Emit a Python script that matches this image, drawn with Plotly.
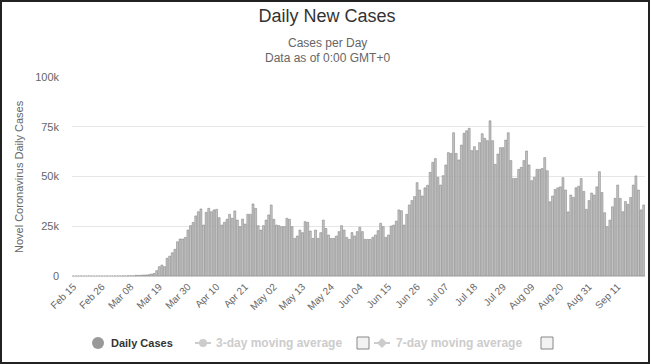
import pandas as pd
import plotly.graph_objects as go

START_DATE = "2020-02-15"

# Daily new cases
FEB = [0, 0, 0, 0, 0, 0, 2, 0, 0, 0, 1, 1, 0, 3, 1]
MAR = [8, 23, 20, 31, 68, 45, 140, 116, 65, 376, 322, 382, 516, 548,
       700, 1000, 1300, 2700, 4700, 5500, 4700, 8900, 10000, 11700, 13400,
       17200, 18600, 18600, 19400, 23100, 25300]
APR = [26900, 30200, 32300, 33700, 25600, 32000, 34000, 32300, 33200, 33500,
       29300, 25600, 27000, 28500, 31000, 29000, 32700, 28100, 24800, 28600,
       26100, 31000, 31000, 36200, 34000, 25300, 23100, 25300, 28100, 30700]
MAY = [35700, 28500, 25600, 25300, 24800, 24800, 29000, 28500, 24800, 18900,
       20100, 23100, 21800, 27300, 27000, 22600, 18900, 23100, 18900, 21800,
       28100, 23900, 20600, 18900, 18900, 20100, 22300, 25300, 23100, 19400,
       18400]
JUN = [21800, 20100, 22300, 24500, 22300, 18400, 18400, 18400, 19500, 20600,
       22800, 26500, 24800, 19400, 20600, 25100, 25600, 27600, 33200, 32800,
       25600, 31000, 35700, 37900, 39900, 46900, 43200, 40200, 44300, 45600]
JUL = [52100, 57100, 59000, 49600, 45700, 50400, 55800, 62000, 61600, 72000,
       61600, 58300, 65800, 71700, 73000, 74200, 63000, 65000, 63000, 67000,
       71500, 69200, 68000, 78000, 68000, 56100, 61300, 64500, 64500, 68300,
       72000]
AUG = [58000, 49000, 49000, 53600, 54600, 58000, 62800, 55800, 47900, 49600,
       53600, 53600, 54000, 59500, 52900, 37300, 40200, 43500, 44300, 44800,
       49400, 43200, 32200, 40700, 39500, 44300, 45100, 49000, 42500, 33500,
       37900]
SEP = [41700, 40700, 44800, 52400, 42000, 31800, 24800, 28100, 34800, 39000,
       45700, 39000, 32300, 37400, 36000, 39500, 45700, 50300, 43200, 33200,
       35700]

TICK_LABELS = ["Feb 15", "Feb 26", "Mar 08", "Mar 19", "Mar 30", "Apr 10",
               "Apr 21", "May 02", "May 13", "May 24", "Jun 04", "Jun 15",
               "Jun 26", "Jul 07", "Jul 18", "Jul 29", "Aug 09", "Aug 20",
               "Aug 31", "Sep 11"]
Y_TICKS = [0, 25000, 50000, 75000, 100000]
Y_TICK_TEXT = ["0", "25k", "50k", "75k", "100k"]

daily = FEB + MAR + APR + MAY + JUN + JUL + AUG + SEP
dates = pd.date_range(START_DATE, periods=len(daily))
cats = [d.strftime("%b %d") for d in dates]

W, H = 650, 364
L, R, T, B = 72, 5, 77, 88
PW, PH = W - L - R, H - T - B


def px(x):
    return (x - L) / PW


def py(y):
    return (H - B - y) / PH


FONT = "Liberation Sans, Arial, sans-serif"

fig = go.Figure()
fig.add_bar(x=cats, y=daily, name="Daily Cases",
            marker=dict(color="#c4c4c4", line=dict(color="#7a7a7a", width=0.5)),
            showlegend=False)

shapes = []
annotations = []

# subtitle
annotations.append(dict(text="Cases per Day", x=px(327), y=py(43), xref="paper", yref="paper",
                        xanchor="center", yanchor="middle",
                        showarrow=False, font=dict(size=12, color="#666666", family=FONT)))
annotations.append(dict(text="Data as of 0:00 GMT+0", x=px(327), y=py(58), xref="paper", yref="paper",
                        xanchor="center", yanchor="middle",
                        showarrow=False, font=dict(size=12, color="#666666", family=FONT)))
# y-axis title
annotations.append(dict(text="Novel Coronavirus Daily Cases", x=px(19), y=py(177), xref="paper",
                        yref="paper", xanchor="center", yanchor="middle", showarrow=False,
                        textangle=-90, font=dict(size=11, color="#666666", family=FONT)))

# legend (manual)
LY = 343
shapes.append(dict(type="circle", xref="paper", yref="paper", x0=px(92), x1=px(104),
                   y0=py(LY + 6), y1=py(LY - 6), fillcolor="#999999", line=dict(width=0)))
annotations.append(dict(text="<b>Daily Cases</b>", x=px(109), y=py(LY), xref="paper", yref="paper",
                        xanchor="left", yanchor="middle", showarrow=False,
                        font=dict(size=11, color="#333333", family=FONT)))
# 3-day
shapes.append(dict(type="line", xref="paper", yref="paper", x0=px(195), x1=px(211),
                   y0=py(LY), y1=py(LY), line=dict(color="#cccccc", width=2)))
shapes.append(dict(type="circle", xref="paper", yref="paper", x0=px(199), x1=px(207),
                   y0=py(LY + 4), y1=py(LY - 4), fillcolor="#cccccc", line=dict(width=0)))
annotations.append(dict(text="<b>3-day moving average</b>", x=px(214), y=py(LY), xref="paper",
                        yref="paper", xanchor="left", yanchor="middle", showarrow=False,
                        font=dict(size=12, color="#cccccc", family=FONT)))
shapes.append(dict(type="rect", xref="paper", yref="paper", x0=px(357), x1=px(369),
                   y0=py(LY + 6), y1=py(LY - 6), fillcolor="#f2f2f2",
                   line=dict(color="#888888", width=1)))
# 7-day
shapes.append(dict(type="line", xref="paper", yref="paper", x0=px(374), x1=px(390),
                   y0=py(LY), y1=py(LY), line=dict(color="#cccccc", width=2)))
cx = 382
shapes.append(dict(type="path", xref="paper", yref="paper",
                   path=f"M {px(cx)} {py(LY - 5)} L {px(cx + 5)} {py(LY)} L {px(cx)} {py(LY + 5)} L {px(cx - 5)} {py(LY)} Z",
                   fillcolor="#cccccc", line=dict(width=0)))
annotations.append(dict(text="<b>7-day moving average</b>", x=px(394), y=py(LY), xref="paper",
                        yref="paper", xanchor="left", yanchor="middle", showarrow=False,
                        font=dict(size=12, color="#cccccc", family=FONT)))
shapes.append(dict(type="rect", xref="paper", yref="paper", x0=px(541), x1=px(553),
                   y0=py(LY + 6), y1=py(LY - 6), fillcolor="#f2f2f2",
                   line=dict(color="#888888", width=1)))

# outer frame
shapes.append(dict(type="rect", xref="paper", yref="paper", x0=px(1), x1=px(649),
                   y0=py(363), y1=py(1), line=dict(color="#222222", width=2),
                   fillcolor="rgba(0,0,0,0)", layer="above"))

fig.update_layout(
    width=W, height=H,
    margin=dict(l=L, r=R, t=T, b=B),
    paper_bgcolor="white", plot_bgcolor="white",
    font=dict(family=FONT, color="#666666"),
    title=dict(text="Daily New Cases", x=0.503, xref="container", xanchor="center",
               y=1 - 16 / H, yref="container", yanchor="middle",
               font=dict(size=18, color="#333333", family=FONT)),
    bargap=0.25,
    showlegend=False,
    shapes=shapes,
    annotations=annotations,
    xaxis=dict(type="category", range=[-0.5, len(daily) - 0.5],
               tickmode="array", tickvals=TICK_LABELS, ticktext=TICK_LABELS,
               tickangle=-45, tickfont=dict(size=10, color="#666666", family=FONT),
               showgrid=False, showline=True, linecolor="#cccccc", linewidth=1,
               ticks="", zeroline=False),
    yaxis=dict(range=[0, 100000], tickmode="array", tickvals=Y_TICKS, ticktext=Y_TICK_TEXT,
               tickfont=dict(size=11, color="#666666", family=FONT),
               showgrid=True, gridcolor="#e6e6e6", gridwidth=1, zeroline=False,
               showline=False, ticks="", ticklabelstandoff=12),
)

fig.write_html(
    "out.html",
    config={"displayModeBar": False},
    post_script="document.body.style.margin='0';document.body.style.overflow='hidden';",
)
